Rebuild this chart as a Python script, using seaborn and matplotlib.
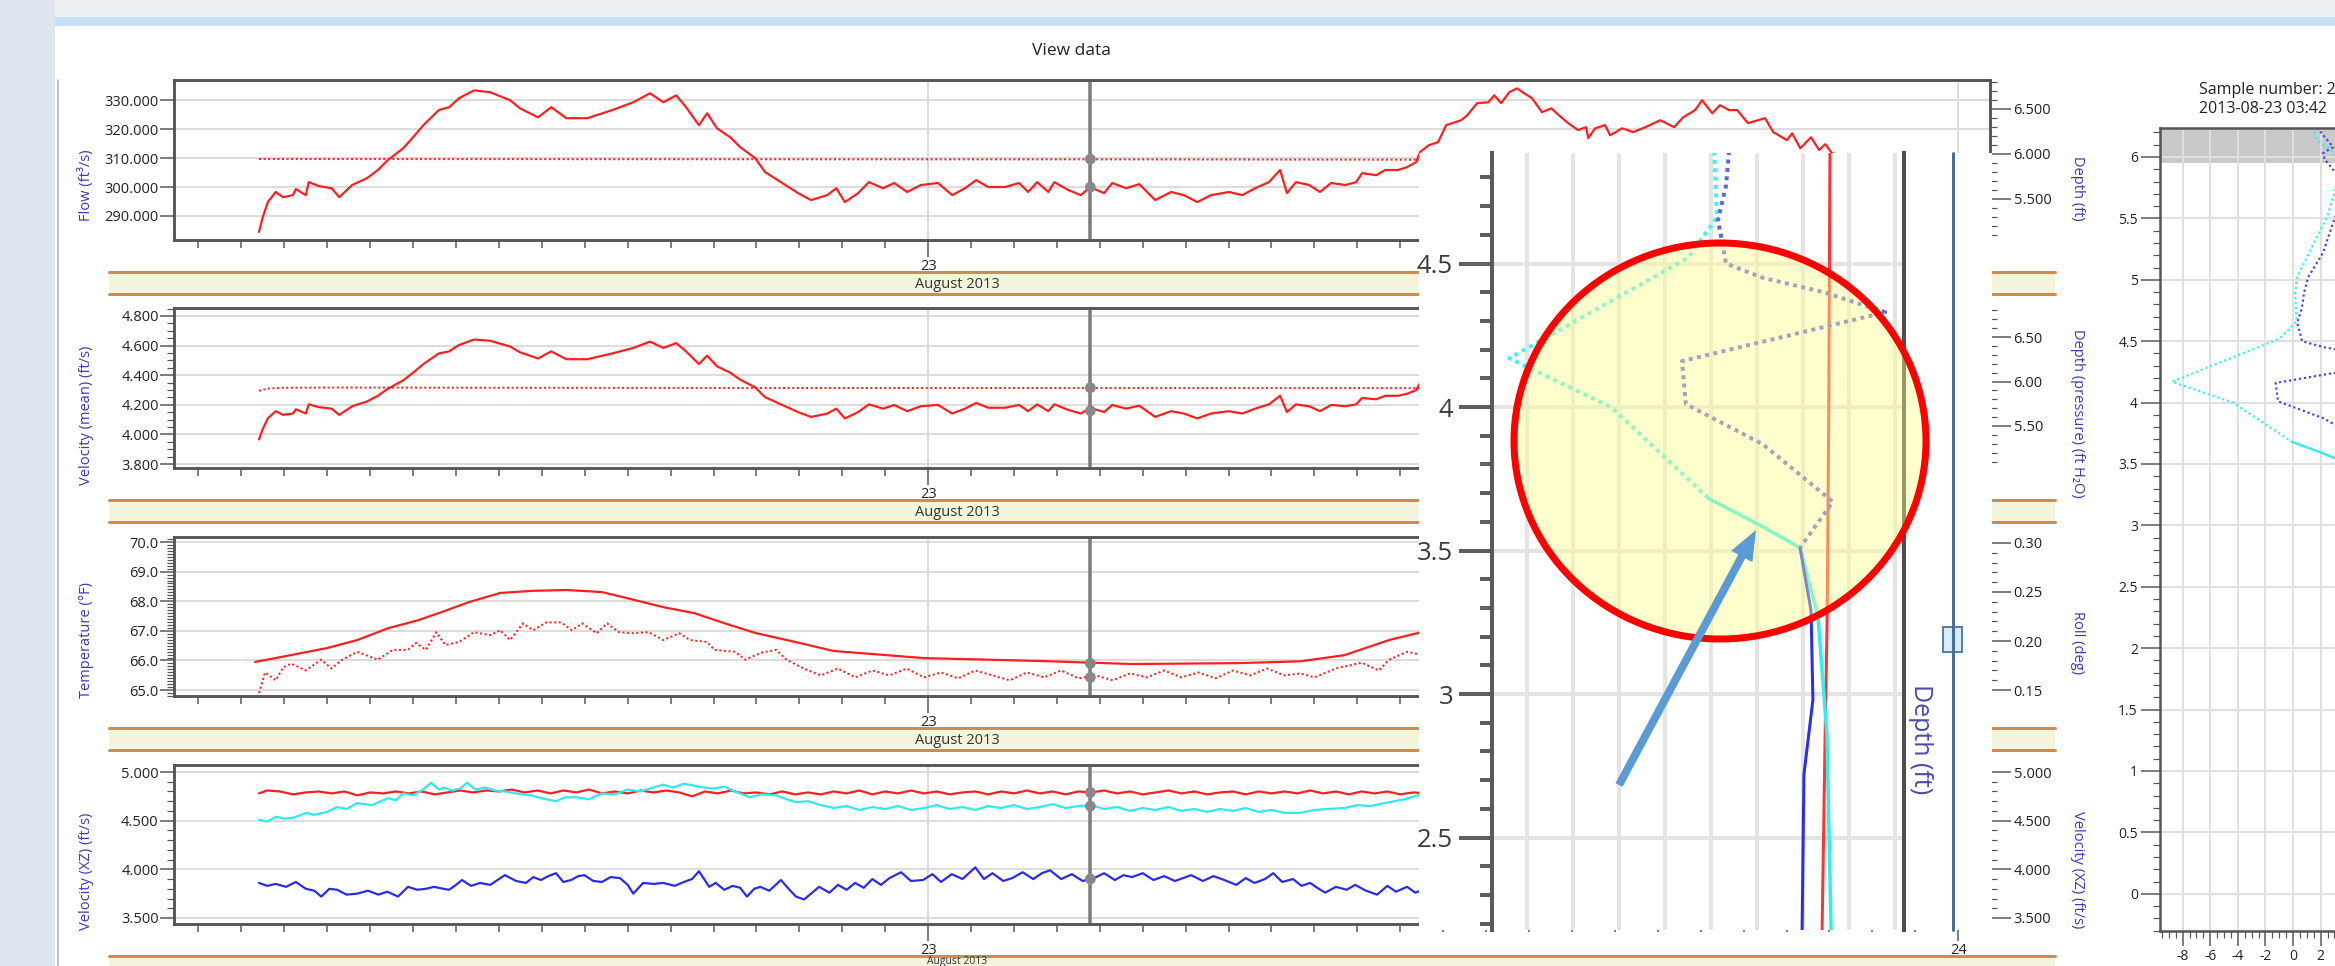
import matplotlib
matplotlib.use("Agg")
import matplotlib.pyplot as plt
import seaborn as sns
from matplotlib.patches import Rectangle, Ellipse, FancyArrow
from matplotlib.ticker import MultipleLocator, FixedLocator, FixedFormatter, FormatStrFormatter

# ---------------- data (hours since 2013-08-22 00:00) ----------------
day_ticks = [24, 48]
day_labels = ["23", "24"]
cursor_hour = 27.78

flow_hours = [8.41, 8.5, 8.62, 8.8, 8.97, 9.2, 9.27, 9.5, 9.57, 9.81, 10.1, 10.28, 10.58, 10.93, 11.18,
              11.41, 11.77, 12.0, 12.24, 12.6, 12.84, 13.07, 13.42, 13.79, 14.26, 14.49, 14.91, 15.22,
              15.57, 16.06, 16.64, 17.13, 17.52, 17.83, 18.13, 18.36, 18.66, 18.85, 19.08, 19.39, 19.62,
              19.97, 20.2, 20.57, 20.97, 21.27, 21.65, 21.86, 22.06, 22.37, 22.62, 22.95, 23.21, 23.51,
              23.83, 24.23, 24.56, 24.86, 25.12, 25.4, 25.79, 26.12, 26.33, 26.54, 26.8, 26.94, 27.26,
              27.56, 27.77, 28.1, 28.29, 28.61, 28.92, 29.29, 29.66, 29.96, 30.27, 30.59, 31.01, 31.32,
              31.62, 31.94, 32.2, 32.36, 32.57, 32.88, 33.13, 33.39, 33.72, 33.97, 34.11, 34.44, 34.65,
              34.95, 35.16, 35.37, 35.46, 35.67, 35.88, 36.07, 36.42, 36.56, 36.79, 37.05, 37.19, 37.35,
              37.54, 37.72, 37.89, 38.07, 38.3, 38.52, 38.75, 38.91, 39.14, 39.33, 39.38, 39.54, 39.77,
              39.89, 40.17, 40.43, 40.71, 41.06, 41.38, 41.59, 41.87, 42.03, 42.27, 42.45, 42.66, 42.85,
              43.1, 43.34, 43.5, 43.69, 44.01, 44.13, 44.32, 44.57, 44.76, 44.9, 45.06, 45.5, 46.0]
flow_cfs = [284.5, 289.7, 294.9, 298.3, 296.5, 297.2, 299.3, 297.2, 301.7, 300.3, 299.6, 296.5, 300.7,
            303.1, 305.9, 309.3, 313.4, 317.2, 321.4, 326.6, 327.6, 330.7, 333.4, 332.8, 330.0, 327.2,
            324.1, 327.6, 323.8, 323.8, 326.6, 329.3, 332.4, 329.3, 331.7, 327.6, 321.4, 325.5, 320.3,
            317.2, 313.8, 310.0, 305.2, 301.7, 297.9, 295.5, 297.2, 299.6, 294.8, 297.9, 301.7, 299.6,
            301.4, 298.3, 300.7, 301.4, 297.2, 299.6, 302.4, 300.0, 300.0, 301.4, 298.3, 301.7, 298.3,
            301.7, 299.0, 297.2, 300.0, 297.9, 301.4, 299.6, 301.0, 295.5, 298.3, 297.2, 294.8, 297.2,
            298.3, 297.2, 299.6, 301.7, 305.9, 297.9, 301.7, 300.7, 298.3, 301.4, 300.7, 301.7, 304.8,
            304.1, 305.9, 305.9, 306.9, 308.6, 312.1, 314.5, 315.5, 321.4, 323.1, 324.8, 329.0, 329.3,
            331.7, 329.0, 332.8, 334.1, 332.4, 330.7, 325.9, 327.2, 324.1, 322.1, 319.7, 320.7, 316.9,
            320.3, 321.4, 317.9, 320.3, 319.0, 320.7, 323.1, 320.7, 324.1, 326.6, 330.0, 325.5, 328.3,
            326.6, 326.6, 322.1, 323.1, 323.8, 319.0, 316.2, 318.6, 313.4, 317.2, 312.8, 314.8, 311.7,
            310.0, 308.0]

depth_hours = [8.41, 12, 16, 20, 24, 28, 32, 36, 40, 44, 46]
depth_ft = [5.944, 5.943, 5.942, 5.941, 5.940, 5.940, 5.938, 5.936, 5.934, 5.932, 5.930]

vel_mean = [3.966, 4.038, 4.110, 4.157, 4.132, 4.141, 4.170, 4.141, 4.203, 4.184, 4.174, 4.132, 4.190,
            4.223, 4.261, 4.308, 4.365, 4.417, 4.475, 4.547, 4.561, 4.604, 4.641, 4.633, 4.594, 4.555,
            4.513, 4.561, 4.508, 4.508, 4.547, 4.584, 4.627, 4.584, 4.617, 4.561, 4.475, 4.532, 4.460,
            4.417, 4.370, 4.318, 4.252, 4.203, 4.151, 4.118, 4.141, 4.174, 4.108, 4.151, 4.203, 4.174,
            4.199, 4.157, 4.190, 4.199, 4.141, 4.174, 4.213, 4.180, 4.180, 4.199, 4.157, 4.203, 4.157,
            4.203, 4.166, 4.141, 4.180, 4.151, 4.199, 4.174, 4.194, 4.118, 4.157, 4.141, 4.108, 4.141,
            4.157, 4.141, 4.174, 4.203, 4.261, 4.151, 4.203, 4.190, 4.157, 4.199, 4.190, 4.203, 4.246,
            4.237, 4.261, 4.261, 4.275, 4.299, 4.347, 4.380, 4.394, 4.475]

press_hours = [8.41, 8.6, 9.0, 10.0, 14.0, 18.0, 22.0, 26.0, 30.0, 34.0, 36.0]
press_depth = [5.895, 5.92, 5.93, 5.932, 5.930, 5.928, 5.927, 5.927, 5.926, 5.926, 5.925]

temp_hours = [8.32, 9.04, 10.0, 10.7, 11.42, 12.12, 12.6, 13.3, 14.03, 14.75, 15.57, 16.4, 17.0, 17.83,
              18.55, 19.25, 19.97, 20.92, 21.8, 23.9, 26.66, 28.75, 31.2, 32.67, 33.7, 34.74, 35.42, 36.5]
temp_f = [65.95, 66.15, 66.42, 66.69, 67.09, 67.36, 67.60, 67.97, 68.28, 68.35, 68.38, 68.31, 68.10,
          67.80, 67.60, 67.26, 66.93, 66.62, 66.32, 66.08, 65.98, 65.88, 65.91, 65.97, 66.18, 66.69,
          66.93, 67.5]

roll_hours = [8.41, 8.55, 8.8, 8.97, 9.16, 9.5, 9.86, 10.1, 10.35, 10.7,
              11.18, 11.53, 11.88, 12.07, 12.3, 12.54, 12.75, 13.07, 13.42, 13.8,
              14.03, 14.26, 14.56, 14.8, 15.1, 15.45, 15.7, 15.94, 16.28, 16.52,
              16.8, 17.13, 17.48, 17.83, 18.2, 18.45, 18.85, 19.02, 19.5, 19.74,
              20.1, 20.46, 20.7, 21.1, 21.5, 21.9, 22.3, 22.7, 23.1, 23.5,
              23.9, 24.3, 24.7, 25.1, 25.5, 25.9, 26.3, 26.7, 27.1, 27.5,
              27.9, 28.3, 28.7, 29.1, 29.5, 29.9, 30.3, 30.7, 31.1, 31.5,
              31.9, 32.3, 32.67, 33.0, 33.5, 34.1, 34.5, 34.74, 35.16, 35.6, 36.0]
roll_deg = [0.147, 0.168, 0.160, 0.173, 0.177, 0.170, 0.181, 0.172, 0.181, 0.189,
            0.181, 0.191, 0.191, 0.198, 0.191, 0.209, 0.196, 0.199, 0.209, 0.206,
            0.211, 0.201, 0.218, 0.211, 0.219, 0.219, 0.211, 0.218, 0.208, 0.218,
            0.209, 0.208, 0.209, 0.201, 0.208, 0.201, 0.199, 0.191, 0.189, 0.181,
            0.188, 0.191, 0.181, 0.172, 0.165, 0.172, 0.163, 0.170, 0.165, 0.172,
            0.163, 0.168, 0.162, 0.170, 0.165, 0.160, 0.168, 0.163, 0.170, 0.162,
            0.165, 0.160, 0.167, 0.163, 0.170, 0.163, 0.168, 0.162, 0.170, 0.165,
            0.172, 0.165, 0.167, 0.163, 0.172, 0.178, 0.170, 0.181, 0.189, 0.185, 0.190]

xz_red_hours = [8.41, 8.6, 8.9, 9.2, 9.5, 9.8, 10.1, 10.4, 10.7, 11.0,
                11.3, 11.6, 11.9, 12.2, 12.5, 12.8, 13.1, 13.4, 13.7, 14.0,
                14.3, 14.6, 14.9, 15.2, 15.5, 15.8, 16.1, 16.4, 16.7, 17.0,
                17.3, 17.6, 17.9, 18.2, 18.5, 18.8, 19.1, 19.4, 19.7, 20.0,
                20.3, 20.6, 20.9, 21.2, 21.5, 21.8, 22.1, 22.4, 22.7, 23.0,
                23.3, 23.6, 23.9, 24.2, 24.5, 24.8, 25.1, 25.4, 25.7, 26.0,
                26.3, 26.6, 26.9, 27.2, 27.5, 27.8, 28.1, 28.4, 28.7, 29.0,
                29.3, 29.6, 29.9, 30.2, 30.5, 30.8, 31.1, 31.4, 31.7, 32.0,
                32.3, 32.6, 32.9, 33.2, 33.5, 33.8, 34.1, 34.4, 34.7, 35.0,
                35.3, 35.6, 36.0]
xz_red = [4.78, 4.81, 4.80, 4.77, 4.79, 4.80, 4.78, 4.80, 4.76, 4.79,
          4.78, 4.80, 4.78, 4.80, 4.77, 4.79, 4.81, 4.79, 4.81, 4.80,
          4.82, 4.79, 4.81, 4.78, 4.81, 4.79, 4.82, 4.78, 4.80, 4.78,
          4.81, 4.79, 4.81, 4.79, 4.75, 4.80, 4.78, 4.81, 4.78, 4.79,
          4.77, 4.80, 4.77, 4.79, 4.77, 4.80, 4.78, 4.81, 4.77, 4.80,
          4.78, 4.81, 4.78, 4.80, 4.77, 4.79, 4.80, 4.77, 4.80, 4.78,
          4.81, 4.78, 4.80, 4.77, 4.80, 4.79, 4.81, 4.78, 4.80, 4.77,
          4.79, 4.81, 4.78, 4.80, 4.77, 4.79, 4.80, 4.77, 4.80, 4.78,
          4.80, 4.78, 4.81, 4.78, 4.80, 4.77, 4.80, 4.78, 4.80, 4.77,
          4.79, 4.78, 4.80]

xz_cyan_hours = [8.41, 8.6, 8.81, 9.0, 9.2, 9.4, 9.51, 9.7, 10.0, 10.23,
                 10.45, 10.7, 11.05, 11.25, 11.42, 11.6, 11.77, 12.0, 12.23, 12.42,
                 12.6, 12.72, 12.9, 13.1, 13.26, 13.45, 13.68, 13.9, 14.14, 14.4,
                 14.75, 15.0, 15.33, 15.55, 15.82, 16.1, 16.4, 16.7, 17.0, 17.3,
                 17.59, 17.83, 18.05, 18.31, 18.55, 18.78, 19.0, 19.25, 19.5, 19.85,
                 20.1, 20.46, 20.7, 20.92, 21.2, 21.5, 21.8, 22.1, 22.4, 22.7,
                 23.0, 23.3, 23.6, 23.9, 24.2, 24.5, 24.8, 25.1, 25.4, 25.7,
                 26.0, 26.3, 26.6, 26.9, 27.2, 27.5, 27.8, 28.1, 28.4, 28.7,
                 29.0, 29.3, 29.6, 29.9, 30.2, 30.5, 30.8, 31.1, 31.4, 31.7,
                 32.0, 32.3, 32.67, 33.0, 33.3, 33.7, 34.0, 34.3, 34.74, 35.1,
                 35.4, 35.8]
xz_cyan = [4.51, 4.49, 4.54, 4.52, 4.53, 4.56, 4.58, 4.56, 4.59, 4.64,
           4.62, 4.68, 4.66, 4.70, 4.73, 4.71, 4.78, 4.76, 4.82, 4.89,
           4.82, 4.84, 4.81, 4.83, 4.89, 4.82, 4.84, 4.81, 4.80, 4.78,
           4.76, 4.73, 4.70, 4.74, 4.74, 4.72, 4.78, 4.77, 4.82, 4.80,
           4.84, 4.87, 4.84, 4.88, 4.86, 4.84, 4.83, 4.85, 4.80, 4.74,
           4.77, 4.76, 4.72, 4.69, 4.70, 4.66, 4.63, 4.65, 4.61, 4.64,
           4.62, 4.65, 4.61, 4.63, 4.66, 4.62, 4.64, 4.61, 4.65, 4.63,
           4.66, 4.62, 4.64, 4.67, 4.63, 4.65, 4.66, 4.62, 4.64, 4.60,
           4.63, 4.61, 4.64, 4.60, 4.62, 4.59, 4.62, 4.60, 4.63, 4.59,
           4.61, 4.58, 4.58, 4.61, 4.62, 4.63, 4.66, 4.65, 4.69, 4.72,
           4.76, 4.75]

xz_blue_hours = [8.41, 8.6, 8.8, 9.04, 9.27, 9.5, 9.7, 9.86, 10.05, 10.23,
                 10.45, 10.7, 10.95, 11.19, 11.4, 11.65, 11.88, 12.1, 12.3, 12.49,
                 12.7, 12.84, 13.0, 13.14, 13.35, 13.56, 13.8, 14.0, 14.14, 14.4,
                 14.63, 14.8, 14.98, 15.15, 15.33, 15.5, 15.68, 15.85, 15.99, 16.2,
                 16.4, 16.6, 16.82, 17.0, 17.13, 17.36, 17.6, 17.83, 18.1, 18.31,
                 18.5, 18.66, 18.9, 19.05, 19.25, 19.45, 19.62, 19.78, 19.95, 20.09,
                 20.3, 20.57, 20.75, 20.92, 21.11, 21.3, 21.46, 21.7, 21.9, 22.1,
                 22.3, 22.5, 22.7, 22.9, 23.1, 23.37, 23.6, 23.88, 24.1, 24.3,
                 24.55, 24.8, 25.1, 25.3, 25.5, 25.75, 25.96, 26.2, 26.45, 26.65,
                 26.84, 27.1, 27.35, 27.6, 27.87, 28.1, 28.35, 28.55, 28.75, 29.0,
                 29.25, 29.5, 29.75, 30.0, 30.13, 30.4, 30.65, 30.9, 31.18, 31.4,
                 31.6, 31.85, 32.04, 32.25, 32.5, 32.7, 32.9, 33.1, 33.25, 33.5,
                 33.75, 33.95, 34.2, 34.46, 34.7, 34.9, 35.16, 35.35, 35.6, 35.9]
xz_blue = [3.86, 3.83, 3.85, 3.82, 3.87, 3.80, 3.78, 3.72, 3.80, 3.79,
           3.74, 3.75, 3.78, 3.74, 3.77, 3.72, 3.82, 3.79, 3.80, 3.82,
           3.80, 3.79, 3.84, 3.89, 3.83, 3.86, 3.84, 3.90, 3.94, 3.88,
           3.86, 3.92, 3.89, 3.93, 3.96, 3.87, 3.89, 3.93, 3.94, 3.88,
           3.87, 3.92, 3.91, 3.84, 3.75, 3.86, 3.85, 3.86, 3.83, 3.87,
           3.90, 3.98, 3.82, 3.86, 3.79, 3.83, 3.81, 3.72, 3.80, 3.82,
           3.78, 3.89, 3.80, 3.72, 3.69, 3.76, 3.82, 3.76, 3.84, 3.79,
           3.86, 3.81, 3.90, 3.84, 3.91, 3.97, 3.88, 3.89, 3.95, 3.87,
           3.95, 3.90, 4.02, 3.90, 3.96, 3.88, 3.91, 3.97, 3.90, 3.96,
           3.99, 3.90, 3.95, 3.88, 3.91, 3.96, 3.89, 3.94, 3.92, 3.96,
           3.89, 3.93, 3.88, 3.92, 3.94, 3.88, 3.93, 3.89, 3.84, 3.91,
           3.86, 3.90, 3.96, 3.87, 3.90, 3.83, 3.86, 3.80, 3.76, 3.82,
           3.79, 3.84, 3.78, 3.74, 3.83, 3.77, 3.82, 3.76, 3.80, 3.78]

# values at the cursor (gray dots)
cursor_left = [300.0, 4.16, 65.90, None]
cursor_right = [5.943, 5.93, 0.163, None]
cursor_xz = [4.79, 4.65, 3.90]

# velocity profiles (velocity ft/s, depth ft)
cyan_dot_v = [1.38, 1.74, 2.68, 3.6, 3.9, 3.04, 2.46, 1.38, 0.29, 0.14, 0.26, -1.00, -8.77, -4.35, -0.08]
cyan_dot_d = [6.24, 6.14, 6.06, 5.95, 5.80, 5.73, 5.51, 5.27, 5.02, 4.89, 4.66, 4.52, 4.17, 4.00, 3.68]
cyan_sol_v = [-0.08, 2.09, 3.87, 4.65, 5.04, 5.22, 5.35, 5.4]
cyan_sol_d = [3.68, 3.59, 3.51, 3.27, 2.86, 2.18, 1.2, 0.3]
blue_dot_v = [1.74, 2.90, 2.17, 2.30, 3.60, 3.50, 3.04, 2.17, 1.09, 0.78, 0.65, 0.30, 0.43, 0.65,
              2.26, 4.91, 7.57, -1.26, -1.09, 2.26, 5.30, 3.87]
blue_dot_d = [6.24, 6.08, 6.03, 5.98, 5.80, 5.60, 5.51, 5.22, 5.02, 4.885, 4.77, 4.65, 4.60, 4.50,
              4.45, 4.40, 4.33, 4.16, 4.01, 3.87, 3.67, 3.51]
blue_sol_v = [3.87, 4.35, 4.43, 4.04, 3.96, 3.90, 3.85]
blue_sol_d = [3.51, 3.29, 2.98, 2.72, 2.18, 1.2, 0.3]
red_prof_v = [5.25, 5.17, 5.12, 5.05, 4.95, 4.83, 4.75]
red_prof_d = [6.2, 4.885, 4.0, 3.27, 2.8, 2.18, 0.3]

# ---------------- style ----------------
W, H, DPI = 2335, 966, 100
sns.set_theme(style="white")
plt.rcParams["font.family"] = ["Open Sans", "DejaVu Sans"]
plt.rcParams["axes.unicode_minus"] = False

RED = "#FF1E1E"
CYAN = "#2EEAEA"
BLUE = "#2A2AEE"
LBL = "#3A3AB2"
TXT = "#222222"
SPINE = "#555555"
GRID = "#DCDCDC"


def px(p):
    return p * 72.0 / DPI


def rect(x0, y0, x1, y1):
    return [x0 / W, 1 - y1 / H, (x1 - x0) / W, (y1 - y0) / H]


fig = plt.figure(figsize=(W / DPI, H / DPI), dpi=DPI)
fig.patch.set_facecolor("white")

# ---------------- window background ----------------
bg = fig.add_axes([0, 0, 1, 1])
bg.set_zorder(-1)
bg.set_xlim(0, W)
bg.set_ylim(H, 0)
bg.axis("off")
bg.add_patch(Rectangle((0, 0), W, 17, color="#ECEFF4", lw=0))
bg.add_patch(Rectangle((0, 0), 55, H, color="#DEE5EF", lw=0))
bg.add_patch(Rectangle((55, 17), W - 55, 9, color="#C6DEF8", lw=0))
bg.plot([58, 58], [80, H], color="#A9A9A9", lw=px(1.5))
bg.text(1071, 51, "View data", ha="center", va="center", fontsize=12.5, color=TXT)
for k, top in enumerate([272, 500, 728, 956]):
    bg.add_patch(Rectangle((109, top), 2055 - 109, 22, facecolor="#F4F3DC", lw=0))
    bg.plot([109, 2055], [top, top], color="#D5894A", lw=px(3))
    bg.plot([109, 2055], [top + 22, top + 22], color="#D5894A", lw=px(3))
    if k < 3:
        bg.text(957, top + 12, "August 2013", ha="center", va="center", fontsize=10.5, color="#333333")
    else:
        bg.text(957, top + 5.5, "August 2013", ha="center", va="center", fontsize=7.5, color="#333333")

# ---------------- time-series panels ----------------
panels = [
    dict(box=(174, 80, 1990, 240), ylim=(281.7, 337.0), major=10, minor=None, fmt="%.3f",
         rylim=(5.044, 6.822), rmajor=0.5, rminor=0.1, rfmt="%.3f", lab="Flow (ft³/s)",
         rlab="Depth (ft)", laby=185, rlaby=188),
    dict(box=(174, 308, 1990, 468), ylim=(3.773, 4.854), major=0.2, minor=0.05, fmt="%.3f",
         rylim=(5.028, 6.826), rmajor=0.5, rminor=0.1, rfmt="%.2f", lab="Velocity (mean) (ft/s)",
         rlab="Depth (pressure) (ft H₂O)", laby=415, rlaby=413),
    dict(box=(174, 537, 1990, 696), ylim=(64.8, 70.17), major=1.0, minor=0.1, fmt="%.1f",
         rylim=(0.144, 0.306), rmajor=0.05, rminor=0.01, rfmt="%.2f", lab="Temperature (°F)",
         rlab="Roll (deg)", laby=640, rlaby=643),
    dict(box=(174, 765, 1990, 924), ylim=(3.438, 5.072), major=0.5, minor=0.1, fmt="%.3f",
         rylim=(3.438, 5.072), rmajor=0.5, rminor=0.1, rfmt="%.3f", lab="Velocity (XZ) (ft/s)",
         rlab="Velocity (XZ) (ft/s)", laby=871, rlaby=870),
]

dotted = (0, (1, 1.3))
for i, p in enumerate(panels):
    ax = fig.add_axes(rect(*p["box"]))
    ax.set_facecolor("white")
    ax2 = ax.twinx()
    solid_lw = px(2.2)
    if i == 0:
        sns.lineplot(x=flow_hours, y=flow_cfs, ax=ax, color=RED, linewidth=solid_lw, estimator=None)
        sns.lineplot(x=depth_hours, y=depth_ft, ax=ax2, color=RED, linewidth=px(2), linestyle=dotted,
                     estimator=None)
    elif i == 1:
        sns.lineplot(x=flow_hours[:len(vel_mean)], y=vel_mean, ax=ax, color=RED, linewidth=solid_lw,
                     estimator=None)
        sns.lineplot(x=press_hours, y=press_depth, ax=ax2, color=RED, linewidth=px(2), linestyle=dotted,
                     estimator=None)
    elif i == 2:
        sns.lineplot(x=temp_hours, y=temp_f, ax=ax, color=RED, linewidth=solid_lw, estimator=None)
        sns.lineplot(x=roll_hours, y=roll_deg, ax=ax2, color=RED, linewidth=px(2), linestyle=dotted,
                     estimator=None)
    else:
        sns.lineplot(x=xz_red_hours, y=xz_red, ax=ax, color=RED, linewidth=solid_lw, estimator=None)
        sns.lineplot(x=xz_cyan_hours, y=xz_cyan, ax=ax, color=CYAN, linewidth=solid_lw, estimator=None)
        sns.lineplot(x=xz_blue_hours, y=xz_blue, ax=ax, color=BLUE, linewidth=solid_lw, estimator=None)

    # cursor
    ax.axvline(cursor_hour, color="#7C7C7C", lw=px(3.5), zorder=5)
    if i < 3:
        sns.scatterplot(x=[cursor_hour], y=[cursor_left[i]], ax=ax, color="#888888", s=60,
                        edgecolor="none", zorder=6)
        sns.scatterplot(x=[cursor_hour], y=[cursor_right[i]], ax=ax2, color="#888888", s=60,
                        edgecolor="none", zorder=6)
    else:
        sns.scatterplot(x=[cursor_hour] * 3, y=cursor_xz, ax=ax, color="#888888", s=60,
                        edgecolor="none", zorder=6)

    ax.set_xlim(6.43, 48.74)
    ax.set_ylim(*p["ylim"])
    ax2.set_ylim(*p["rylim"])
    ax.set_xlabel("")
    ax.set_ylabel("")
    ax2.set_ylabel("")

    ax.xaxis.set_major_locator(FixedLocator(day_ticks))
    ax.xaxis.set_major_formatter(FixedFormatter(day_labels))
    ax.xaxis.set_minor_locator(MultipleLocator(1))
    ax.yaxis.set_major_locator(MultipleLocator(p["major"]))
    if p["minor"]:
        ax.yaxis.set_minor_locator(MultipleLocator(p["minor"]))
    ax.yaxis.set_major_formatter(FormatStrFormatter(p["fmt"]))
    ax2.yaxis.set_major_locator(MultipleLocator(p["rmajor"]))
    ax2.yaxis.set_minor_locator(MultipleLocator(p["rminor"]))
    ax2.yaxis.set_major_formatter(FormatStrFormatter(p["rfmt"]))

    ax.tick_params(axis="x", which="major", length=12, width=px(1.5), color=SPINE,
                   labelsize=10.5, labelcolor=TXT, pad=2, bottom=True)
    ax.tick_params(axis="x", which="minor", length=6, width=px(1.5), color=SPINE, bottom=True)
    ax.tick_params(axis="y", which="major", length=10, width=px(1.5), color=SPINE,
                   labelsize=10.5, labelcolor=TXT, pad=1, left=True)
    ax.tick_params(axis="y", which="minor", length=5, width=px(1.2), color=SPINE, left=True)
    ax2.tick_params(axis="y", which="major", length=15, width=px(1.5), color=SPINE,
                    labelsize=10.5, labelcolor=TXT, pad=2, right=True)
    ax2.tick_params(axis="y", which="minor", length=5, width=px(1.2), color=SPINE, right=True)

    ax.grid(True, which="major", axis="both", color=GRID, lw=px(2))
    ax.set_axisbelow(True)
    ax2.grid(False)
    for a in (ax, ax2):
        for sp in a.spines.values():
            sp.set_color(SPINE)
            sp.set_linewidth(px(2.5))

    fig.text(86 / W, 1 - p["laby"] / H, p["lab"], rotation=90, ha="center", va="center",
             fontsize=10.5, color=LBL)
    fig.text(2078 / W, 1 - p["rlaby"] / H, p["rlab"], rotation=270, ha="center", va="center",
             fontsize=10.5, color=LBL)

# ---------------- profile panel (right) ----------------
rp = fig.add_axes(rect(2160, 128, 2335, 931))
rp.set_facecolor("white")
rp.axhspan(5.95, 6.5, color="#C9C9C9", lw=0, zorder=0.3)
prof_specs = [
    (red_prof_v, red_prof_d, RED, "-", 2.0),
    (cyan_dot_v, cyan_dot_d, "#38F0F0", dotted, 2.2),
    (blue_dot_v, blue_dot_d, "#4646DD", dotted, 2.2),
    (cyan_sol_v, cyan_sol_d, "#22EEEE", "-", 2.2),
    (blue_sol_v, blue_sol_d, BLUE, "-", 2.0),
]
for v, d, c, ls, lw in prof_specs:
    sns.lineplot(x=v, y=d, ax=rp, color=c, linestyle=ls, linewidth=px(lw), sort=False, estimator=None)
rp.set_xlim(-9.64, 3.04)
rp.set_ylim(-0.303, 6.236)
rp.set_xlabel("")
rp.set_ylabel("")
rp.xaxis.set_major_locator(MultipleLocator(2))
rp.xaxis.set_minor_locator(MultipleLocator(0.5))
rp.yaxis.set_major_locator(MultipleLocator(0.5))
rp.yaxis.set_minor_locator(MultipleLocator(0.1))
rp.xaxis.set_major_formatter(FormatStrFormatter("%g"))
rp.yaxis.set_major_formatter(FormatStrFormatter("%g"))
rp.tick_params(axis="y", which="major", length=14, width=px(1.5), color=SPINE, labelsize=10,
               labelcolor=TXT, pad=2, left=True)
rp.tick_params(axis="y", which="minor", length=5, width=px(1.2), color=SPINE, left=True)
rp.tick_params(axis="x", which="major", length=11, width=px(1.5), color=SPINE, labelsize=10,
               labelcolor=TXT, pad=2, bottom=True)
rp.tick_params(axis="x", which="minor", length=5, width=px(1.2), color=SPINE, bottom=True)
rp.grid(True, which="major", color="#E0E0E0", lw=px(2))
rp.set_axisbelow(True)
rp.spines["right"].set_visible(False)
for k in ("left", "top", "bottom"):
    rp.spines[k].set_color(SPINE)
    rp.spines[k].set_linewidth(px(2.5))
fig.text(2199 / W, 1 - 90 / H, "Sample number: 2", ha="left", va="center", fontsize=11.5, color=TXT)
fig.text(2199 / W, 1 - 109 / H, "2013-08-23 03:42", ha="left", va="center", fontsize=11.5, color=TXT)

# ---------------- magnified inset ----------------
ins_bg = fig.add_axes(rect(1419, 153, 1991.5, 930))
ins_bg.set_zorder(5)
ins_bg.set_facecolor("white")
ins_bg.set_xticks([])
ins_bg.set_yticks([])
for sp in ins_bg.spines.values():
    sp.set_visible(False)

ins = fig.add_axes(rect(1492, 153, 1904, 930))
ins.set_zorder(6)
ins.set_facecolor("white")
ins_specs = [
    (red_prof_v, red_prof_d, "#FF3434", "-", 3.0),
    (cyan_dot_v, cyan_dot_d, "#3AF5EC", (0, (1, 1.1)), 4.0),
    (blue_dot_v, blue_dot_d, "#6464D8", (0, (1, 1.1)), 4.0),
    (cyan_sol_v, cyan_sol_d, "#2CF2EA", "-", 3.5),
    (blue_sol_v, blue_sol_d, "#2B2BF2", "-", 3.0),
]
for v, d, c, ls, lw in ins_specs:
    sns.lineplot(x=v, y=d, ax=ins, color=c, linestyle=ls, linewidth=px(lw), sort=False, estimator=None)
ins.set_xlim(-9.52, 8.39)
ins.set_ylim(2.178, 4.885)
ins.set_xlabel("")
ins.set_ylabel("")
ins.xaxis.set_major_locator(MultipleLocator(2))
ins.yaxis.set_major_locator(MultipleLocator(0.5))
ins.yaxis.set_minor_locator(MultipleLocator(0.1))
ins.yaxis.set_major_formatter(FormatStrFormatter("%g"))
ins.tick_params(axis="x", which="both", length=0, labelbottom=False)
ins.tick_params(axis="y", which="major", length=24, width=px(4), color="#5E5E5E", labelsize=18.5,
                labelcolor="#3A3A3A", pad=4, left=True)
ins.tick_params(axis="y", which="minor", length=9, width=px(4), color="#5E5E5E", left=True)
ins.grid(True, which="major", color="#E4E4E4", lw=px(4))
ins.set_axisbelow(True)
ins.spines["top"].set_visible(False)
ins.spines["bottom"].set_visible(False)
ins.spines["left"].set_color("#5A5A5A")
ins.spines["left"].set_linewidth(px(4))
ins.spines["right"].set_color("#4E4E4E")
ins.spines["right"].set_linewidth(px(4))

# ---------------- overlay annotations ----------------
ov = fig.add_axes([0, 0, 1, 1])
ov.set_zorder(8)
ov.patch.set_alpha(0)
ov.set_xlim(0, W)
ov.set_ylim(H, 0)
ov.axis("off")
ov.plot([1953, 1953], [153, 930], color="#4A6E9A", lw=px(3))
ov.add_patch(Rectangle((1943, 627), 19, 25, facecolor="#D6EEF8", edgecolor="#5B7FA8", lw=px(2)))
ov.add_patch(Ellipse((1720, 441), 412, 396, facecolor=(1, 1, 0.55, 0.42), edgecolor="#FF0000",
                     lw=px(7)))
ov.add_patch(FancyArrow(1619, 785, 137, -255, width=8, head_width=24, head_length=30,
                        length_includes_head=True, color="#5B9BD5", lw=0))
ov.text(1921, 739, "Depth (ft)", rotation=270, ha="center", va="center", fontsize=18, color="#4A4AAA")

fig.savefig("out.png", dpi=DPI, facecolor=fig.get_facecolor())
